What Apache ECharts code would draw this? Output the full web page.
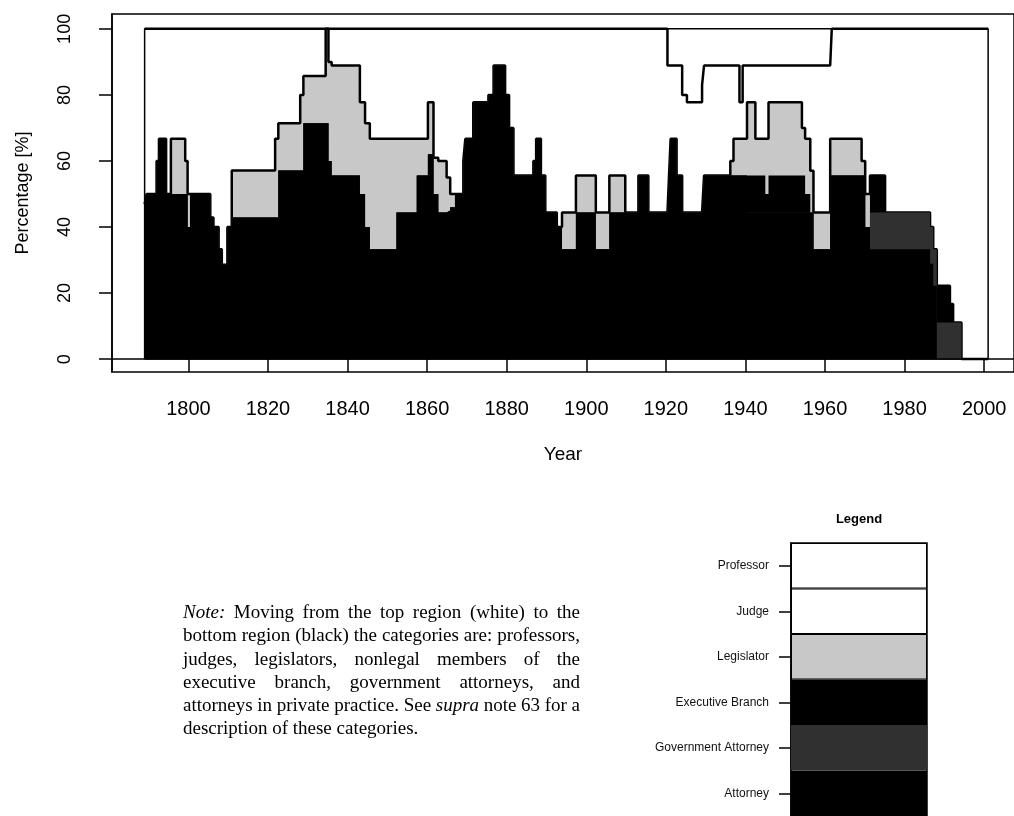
<!DOCTYPE html>
<html>
<head>
<meta charset="utf-8">
<script src="https://cdn.jsdelivr.net/npm/echarts@6/dist/echarts.min.js"></script>
<style>
html,body{margin:0;padding:0;background:#fff;}
#c{width:1014px;height:816px;}
</style>
</head>
<body>
<div id="c"></div>
<script>
// ---------- DATA (change points; each value holds until the next year) ----------
const years = [
 1789.0,1789.5,1792.0,1792.6,1794.4,1795.6,1799.2,1799.8,1800.4,1805.5,
 1806.3,1807.6,1808.4,1809.8,1810.9,1821.8,1822.6,1828.1,1828.9,1834.5,
 1835.2,1836.0,1843.1,1844.4,1845.6,1852.3,1857.4,1860.2,1861.6,1862.8,
 1864.9,1865.8,1867.0,1869.1,1869.6,1871.6,1875.4,1876.7,1879.6,1880.6,
 1881.7,1886.7,1887.4,1888.6,1889.7,1892.6,1893.9,1897.4,1902.4,1905.8,
 1909.8,1913.1,1915.6,1920.4,1920.8,1921.2,1922.7,1924.1,1925.3,1929.1,
 1929.6,1936.2,1937.0,1938.5,1939.3,1940.4,1942.5,1945.0,1945.8,1954.2,
 1955.0,1956.3,1957.1,1961.3,1961.7,1969.2,1970.1,1971.3,1975.1,1986.4,
 1987.2,1988.1,1991.4,1992.2,1994.3,2001.0
];
const attorney = [
 47,50,60,66.7,50,50,50,40,50,42.9,
 40,33.3,28.6,40,42.9,42.9,57.1,57.1,71.4,71.4,
 60,55.6,50,40,33.3,44.4,55.6,62,50,44.4,
 45,46,50,60,66.7,77.8,80,88.9,80,70,
 55.6,60,66.7,55.6,44.4,40,33.3,44.4,33.3,44.4,
 44.4,55.6,44.4,44.4,55.6,66.7,55.6,44.4,44.4,44.4,
 55.6,55.6,55.6,55.6,55.6,44.4,44.4,44.4,44.4,44.4,
 44.4,44.4,33.3,55.6,55.6,55.6,40,33.3,33.3,28.9,
 22.2,0,0,0,0,0
];
const governmentAttorney = [
 0,0,0,0,0,0,0,0,0,0,
 0,0,0,0,0,0,0,0,0,0,
 0,0,0,0,0,0,0,0,0,0,
 0,0,0,0,0,0,0,0,0,0,
 0,0,0,0,0,0,0,0,0,0,
 0,0,0,0,0,0,0,0,0,0,
 0,0,0,0,0,0,0,0,0,0,
 0,0,0,0,0,0,0,11.1,11.1,11.1,
 11.1,11.1,11.1,11.1,0,0
];
const executiveBranch = [
 0,0,0,0,0,0,0,0,0,0,
 0,0,0,0,0,0,0,0,0,0,
 0,0,0,0,0,0,0,0,0,0,
 0,0,0,0,0,0,0,0,0,0,
 0,0,0,0,0,0,0,0,0,0,
 0,0,0,0,0,0,0,0,0,0,
 0,0,0,0,0,11.2,11.2,5.6,11.2,11.2,
 5.6,0,0,0,0,0,0,11.2,0,0,
 0,11.1,5.6,0,0,0
];
const legislator = [
 0,0,0,0,0,16.7,10,10,0,0,
 0,0,0,0,14.2,23.8,14.3,22.9,14.3,28.6,
 30,33.3,27.8,31.4,33.4,22.3,11.1,15.8,11,15.6,
 10,4,0,0,0,0,0,0,0,0,
 0,0,0,0,0,0,11.1,11.2,11.1,11.2,
 0,0,0,0,0,0,0,0,0,0,
 0,4.4,11.1,11.1,11.1,22.2,11.1,16.7,22.2,14.4,
 16.7,12.6,11.1,11.1,11.1,4.4,10,0,0,0,
 0,0,0,0,0,0
];
const judge = [
 53,50,40,33.3,50,33.3,40,50,50,57.1,
 60,66.7,71.4,60,42.9,33.3,28.6,20,14.3,0,
 10,11.1,22.2,28.6,33.3,33.3,33.3,22.2,39,40,
 45,50,50,40,33.3,22.2,20,11.1,20,30,
 44.4,40,33.3,44.4,55.6,60,55.6,44.4,55.6,44.4,
 55.6,44.4,55.6,44.5,33.3,22.2,33.3,35.6,33.4,38.6,
 33.3,28.9,22.2,11.1,22.2,11.1,22.2,22.2,11.1,18.9,
 22.2,31.9,44.5,22.2,33.3,40,50,44.4,55.6,60,
 66.7,77.8,83.3,88.9,100,100
];
const professor = [
 0,0,0,0,0,0,0,0,0,0,
 0,0,0,0,0,0,0,0,0,0,
 0,0,0,0,0,0,0,0,0,0,
 0,0,0,0,0,0,0,0,0,0,
 0,0,0,0,0,0,0,0,0,0,
 0,0,0,11.1,11.1,11.1,11.1,20,22.2,17,
 11.1,11.1,11.1,22.2,11.1,11.1,11.1,11.1,11.1,11.1,
 11.1,11.1,11.1,11.1,0,0,0,0,0,0,
 0,0,0,0,0,0
];
const spanYears = [1789, 2001];
const xTicks = [1800,1820,1840,1860,1880,1900,1920,1940,1960,1980,2000];
const yTicks = [0,20,40,60,80,100];
const categories = ['Attorney','Government Attorney','Executive Branch','Legislator','Judge','Professor'];
// words wrapped in * are italic
const noteLines = [
 '*Note:* Moving from the top region (white) to the',
 'bottom region (black) the categories are: professors,',
 'judges, legislators, nonlegal members of the',
 'executive branch, government attorneys, and',
 'attorneys in private practice. See *supra* note 63 for a',
 'description of these categories.'
];

// ---------- BUILD ----------
const layers = [attorney, governmentAttorney, executiveBranch, legislator, judge, professor];
const colors = ['#000000','#303030','#000000','#c8c8c8','#ffffff','#ffffff'];
const cum = [];
let run = years.map(() => 0);
layers.forEach(arr => { run = run.map((v, i) => v + arr[i]); cum.push(run.slice()); });

const SANS = '"Liberation Sans", Arial, sans-serif';
const SERIF = '"Liberation Serif", "Times New Roman", serif';
function areaSeries(k, lineW, z) {
  return {
    type: 'line', step: 'end', symbol: 'none', silent: true, z: z,
    xAxisIndex: 0, yAxisIndex: 0,
    data: years.map((y, i) => [y, cum[k][i]]),
    lineStyle: lineW > 0 ? { color: '#000', width: lineW } : { opacity: 0, width: 0 },
    areaStyle: { color: colors[k], opacity: 1 }
  };
}
const frameData = [
  [spanYears[0], 0], [spanYears[0], 100], [spanYears[1], 100], [spanYears[1], 0], [spanYears[0], 0]
];

// justified note text (layout only)
const NOTE = { left: 183, width: 397, firstY: 613, lineH: 23.3, size: 19 };
const mctx = document.createElement('canvas').getContext('2d');
function fontFor(it) { return (it ? 'italic ' : '') + NOTE.size + 'px ' + SERIF; }
const noteGraphics = [];
noteLines.forEach((line, li) => {
  const words = line.split(' ').map(w => {
    const it = w.startsWith('*');
    const t = w.replace(/\*/g, '');
    mctx.font = fontFor(it);
    return { t, it, w: mctx.measureText(t).width };
  });
  mctx.font = fontFor(false);
  const space = mctx.measureText(' ').width;
  const total = words.reduce((s, w) => s + w.w, 0);
  const last = li === noteLines.length - 1;
  const gap = last ? space : (NOTE.width - total) / (words.length - 1);
  let x = NOTE.left;
  words.forEach(w => {
    noteGraphics.push({
      type: 'text', x: x, y: NOTE.firstY + li * NOTE.lineH,
      style: { text: w.t, font: fontFor(w.it), fill: '#000', verticalAlign: 'middle' }
    });
    x += w.w + gap;
  });
});

const chart = echarts.init(document.getElementById('c'), null, { renderer: 'canvas' });
chart.setOption({
  animation: false,
  backgroundColor: '#fff',
  grid: [
    { left: 112, right: 0, top: 14, bottom: 444, show: true, borderColor: '#000', borderWidth: 1.5, backgroundColor: 'transparent' },
    { left: 791, top: 543, width: 136, height: 276, show: true, borderColor: '#000', borderWidth: 1.5, backgroundColor: 'transparent' }
  ],
  xAxis: [
    {
      gridIndex: 0, type: 'value', min: 1780.8, max: 2007.5,
      name: 'Year', nameLocation: 'middle', nameGap: 73,
      nameTextStyle: { fontFamily: SANS, fontSize: 19, color: '#000' },
      axisLine: { show: true, lineStyle: { color: '#000', width: 1.5 } },
      axisTick: { show: true, length: 13, customValues: xTicks, lineStyle: { color: '#000', width: 1.5 } },
      axisLabel: { customValues: xTicks, margin: 27, fontFamily: SANS, fontSize: 20, color: '#000', formatter: v => String(v) },
      splitLine: { show: false }
    },
    { gridIndex: 1, type: 'value', min: 0, max: 1, show: false }
  ],
  yAxis: [
    {
      gridIndex: 0, type: 'value', min: -3.9, max: 104.5,
      name: 'Percentage [%]', nameLocation: 'middle', nameGap: 80, nameRotate: 90,
      nameTextStyle: { fontFamily: SANS, fontSize: 18, color: '#000' },
      axisLine: { show: true, lineStyle: { color: '#000', width: 1.5 } },
      axisTick: { show: true, length: 13, customValues: yTicks, lineStyle: { color: '#000', width: 1.5 } },
      axisLabel: { customValues: yTicks, rotate: 90, margin: 38, fontFamily: SANS, fontSize: 18, color: '#000', formatter: v => String(v) },
      splitLine: { show: false }
    },
    {
      gridIndex: 1, type: 'category', data: categories,
      axisLine: { show: true, lineStyle: { color: '#000', width: 1.5 } },
      axisTick: { show: true, alignWithLabel: true, length: 12, lineStyle: { color: '#000', width: 1.5 } },
      axisLabel: { margin: 22, fontFamily: SANS, fontSize: 12, color: '#111' },
      splitLine: { show: false }
    }
  ],
  series: [
    areaSeries(5, 0, 1),
    areaSeries(4, 2.5, 2),
    areaSeries(3, 2.5, 3),
    areaSeries(2, 0, 4),
    areaSeries(1, 0, 5),
    areaSeries(0, 0, 6),
    {
      type: 'line', symbol: 'none', silent: true, z: 10,
      xAxisIndex: 0, yAxisIndex: 0, data: frameData,
      lineStyle: { color: '#000', width: 1.5 }
    },
    {
      type: 'bar', xAxisIndex: 1, yAxisIndex: 1, barWidth: '100%', silent: true,
      data: categories.map((c, i) => ({
        value: 1,
        itemStyle: { color: colors[i], borderColor: i >= 3 ? '#000' : colors[i], borderWidth: i >= 3 ? 1 : 0 }
      }))
    }
  ],
  graphic: [
    {
      type: 'text', x: 859, y: 519,
      style: { text: 'Legend', font: 'bold 13px ' + SANS, fill: '#000', align: 'center', verticalAlign: 'middle' }
    }
  ].concat(noteGraphics)
});
</script>
</body>
</html>
